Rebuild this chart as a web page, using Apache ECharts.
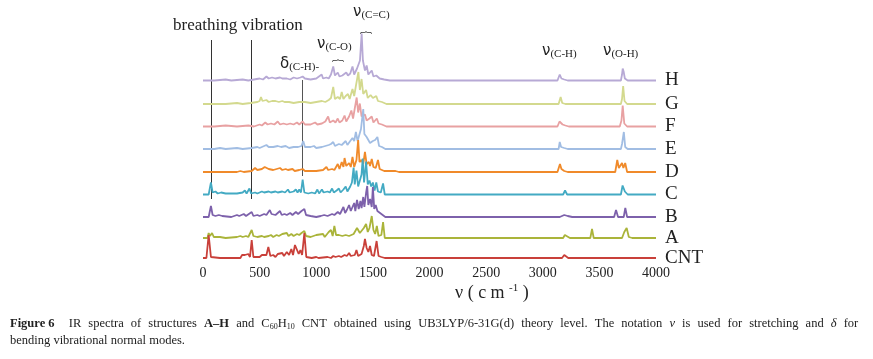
<!DOCTYPE html>
<html>
<head>
<meta charset="utf-8">
<script src="https://cdn.jsdelivr.net/npm/echarts@6/dist/echarts.min.js"></script>
<style>
html, body { margin: 0; background: #fff; }
#chart { width: 873px; height: 359px; }
</style>
</head>
<body>
<div id="chart"></div>
<script>
// IR spectra, [wavenumber cm-1, intensity (arb.)]
var names = ['CNT', 'A', 'B', 'C', 'D', 'E', 'F', 'G', 'H'];

var cnt = [[0,0],[30,0],[50,23],[70,1],[150,0],[160,2],[175,0],[330,0],[345,3],[360,1],[370,3],[385,1],[400,4],[415,1],[430,18],[445,1],[500,1],[520,3],[535,1],[560,3],[577,11],[595,2],[620,3],[640,1],[660,4],[675,2],[700,5],[715,2],[740,6],[760,3],[780,9],[795,3],[812,13],[827,14],[845,4],[860,8],[875,3],[895,25],[912,1],[960,0],[1000,1],[1020,0],[1100,1],[1130,0],[1150,2],[1170,1],[1200,2],[1220,1],[1250,3],[1270,2],[1290,5],[1305,2],[1320,4],[1340,3],[1355,8],[1370,2],[1400,4],[1420,12],[1430,19],[1445,10],[1460,6],[1475,12],[1490,3],[1510,2],[1533,17],[1550,2],[1575,1],[1590,3],[1605,0],[3170,0],[3190,3],[3205,3],[3225,0],[4000,0]];

var specA = [[0,0],[40,0],[50,5],[62,2],[80,5],[95,1],[150,1],[200,0],[300,1],[330,2],[350,1],[380,2],[400,1],[430,8],[445,2],[480,1],[520,2],[540,1],[580,2],[600,3],[620,1],[650,3],[670,2],[700,4],[715,2],[740,5],[755,2],[780,4],[800,2],[830,4],[850,3],[870,5],[895,7],[910,2],[950,1],[1000,3],[1015,1],[1060,4],[1075,1],[1110,6],[1130,8],[1145,2],[1160,12],[1175,3],[1200,3],[1230,2],[1260,3],[1290,2],[1330,4],[1360,10],[1370,12],[1385,5],[1400,6],[1420,10],[1440,14],[1455,6],[1470,10],[1490,22],[1505,8],[1520,4],[1535,12],[1550,2],[1575,3],[1590,16],[1605,0],[3180,0],[3195,3],[3210,1],[3240,0],[3420,0],[3435,9],[3450,0],[3700,0],[3720,6],[3730,5],[3741,10],[3760,1],[3790,0],[4000,0]];

var specB = [[0,0],[50,0],[70,11],[85,2],[110,1],[140,2],[170,1],[250,0],[300,2],[320,1],[360,3],[380,1],[430,5],[445,1],[480,2],[500,1],[540,3],[560,2],[590,7],[605,3],[620,5],[640,2],[660,4],[680,6],[695,2],[720,3],[740,2],[770,4],[790,2],[820,5],[840,3],[870,6],[895,8],[910,2],[950,1],[1000,0],[1040,1],[1070,2],[1100,1],[1140,3],[1160,2],[1190,5],[1210,3],[1240,10],[1255,4],[1270,7],[1290,12],[1305,6],[1320,10],[1335,14],[1345,6],[1360,17],[1375,8],[1390,16],[1400,9],[1415,20],[1425,10],[1440,24],[1450,31],[1460,12],[1475,18],[1490,10],[1500,30],[1512,8],[1525,12],[1540,6],[1555,8],[1575,3],[1590,5],[1610,0],[3150,0],[3190,2],[3220,1],[3260,0],[3630,0],[3647,7],[3665,0],[3715,0],[3729,9],[3745,0],[4000,0]];

var specC = [[0,0],[50,0],[70,12],[85,2],[110,3],[130,1],[160,2],[200,1],[250,1],[300,1],[350,2],[370,4],[385,1],[410,6],[425,1],[460,2],[480,1],[520,3],[540,2],[580,3],[600,2],[640,3],[660,2],[700,3],[725,2],[750,5],[765,2],[800,3],[820,5],[835,2],[850,5],[865,2],[880,15],[895,2],[930,1],[960,2],[990,1],[1010,5],[1025,1],[1050,5],[1065,2],[1100,3],[1120,2],[1140,6],[1155,2],[1180,4],[1200,6],[1215,2],[1240,5],[1260,8],[1275,3],[1300,8],[1315,12],[1330,27],[1340,10],[1355,24],[1370,8],[1385,14],[1400,20],[1410,36],[1422,12],[1440,33],[1455,10],[1470,14],[1485,8],[1500,12],[1515,4],[1530,12],[1545,3],[1570,2],[1590,11],[1605,0],[3180,0],[3197,4],[3215,0],[3690,0],[3705,9],[3712,11],[3725,3],[3750,0],[4000,0]];

var specD = [[0,0],[300,0],[330,1],[360,0],[430,1],[460,4],[480,2],[520,3],[545,5],[560,7],[580,3],[620,2],[650,3],[680,4],[700,2],[730,3],[750,2],[790,3],[810,1],[850,2],[880,3],[900,1],[950,1],[1000,1],[1060,2],[1090,5],[1105,2],[1140,3],[1160,2],[1190,8],[1205,3],[1225,10],[1240,5],[1250,14],[1265,6],[1290,9],[1305,5],[1320,15],[1335,5],[1355,12],[1370,32],[1382,10],[1400,12],[1415,8],[1430,20],[1445,8],[1465,10],[1475,6],[1490,13],[1505,5],[1525,4],[1545,12],[1560,3],[1600,1],[1700,1],[1730,0],[3130,0],[3152,8],[3165,3],[3190,1],[3220,0],[3640,0],[3658,12],[3672,4],[3688,5],[3700,9],[3712,4],[3728,9],[3745,0],[4000,0]];

var specE = [[0,0],[100,0],[150,1],[200,0],[300,1],[350,0],[430,1],[480,2],[500,1],[540,3],[560,4],[580,2],[620,2],[660,3],[690,2],[730,3],[760,1],[800,2],[840,2],[870,3],[885,8],[900,2],[950,2],[980,3],[1000,1],[1050,2],[1080,3],[1110,4],[1130,5],[1150,7],[1165,3],[1200,5],[1225,4],[1260,8],[1275,4],[1300,8],[1320,11],[1335,8],[1350,17],[1365,8],[1380,14],[1395,20],[1405,30],[1415,40],[1425,15],[1445,12],[1460,12],[1475,6],[1500,8],[1520,9],[1540,12],[1555,3],[1580,2],[1610,0],[3140,0],[3150,7],[3162,2],[3190,1],[3220,0],[3690,0],[3700,5],[3716,17],[3728,2],[3750,0],[4000,0]];

var specF = [[0,0],[100,0],[200,1],[300,0],[400,1],[450,0],[500,2],[520,1],[550,4],[570,2],[600,3],[630,2],[660,5],[680,2],[710,3],[740,2],[770,3],[800,2],[830,4],[850,2],[880,5],[900,2],[950,2],[990,4],[1010,2],[1050,3],[1080,5],[1105,10],[1120,4],[1150,6],[1170,4],[1190,8],[1205,4],[1230,6],[1250,11],[1265,5],[1290,10],[1310,16],[1325,8],[1340,18],[1357,29],[1370,14],[1385,23],[1400,10],[1415,9],[1430,12],[1445,6],[1470,8],[1490,10],[1505,4],[1520,6],[1535,8],[1550,3],[1580,2],[1620,0],[3130,0],[3148,5],[3160,3],[3175,2],[3200,1],[3230,0],[3680,0],[3695,6],[3706,21],[3720,3],[3745,0],[4000,0]];

var specG = [[0,0],[200,0],[300,1],[350,0],[420,1],[480,2],[500,3],[512,7],[525,3],[560,4],[580,2],[610,3],[640,3],[670,2],[700,3],[720,2],[760,2],[800,1],[850,2],[900,2],[950,1],[1000,2],[1050,3],[1080,2],[1110,4],[1130,6],[1150,17],[1165,5],[1190,7],[1210,5],[1225,12],[1240,5],[1260,8],[1280,10],[1295,5],[1320,15],[1335,8],[1350,18],[1372,32],[1385,14],[1400,25],[1415,10],[1440,14],[1455,6],[1480,9],[1500,6],[1530,8],[1545,3],[1580,2],[1620,0],[3140,0],[3158,7],[3172,1],[3200,0],[3690,0],[3700,5],[3710,18],[3722,3],[3745,0],[4000,0]];

var specH = [[0,0],[100,0],[200,1],[250,0],[350,1],[400,0],[450,1],[500,2],[530,1],[560,4],[580,2],[610,3],[640,2],[680,3],[700,2],[740,2],[770,1],[800,3],[830,2],[860,3],[880,4],[900,2],[950,1],[1000,2],[1048,6],[1060,2],[1090,3],[1110,2],[1130,6],[1150,14],[1165,5],[1190,8],[1205,4],[1230,5],[1265,8],[1280,5],[1300,7],[1320,14],[1335,6],[1360,12],[1386,20],[1401,47],[1412,20],[1430,10],[1445,15],[1460,6],[1490,10],[1505,4],[1530,5],[1545,6],[1560,2],[1600,1],[1650,0],[3130,0],[3150,6],[3165,2],[3190,1],[3220,0],[3690,0],[3700,6],[3706,12],[3714,9],[3725,2],[3750,0],[4000,0]];

// breathing vibration marker positions (cm-1)
var breathing = [77, 424, 880];

var spectra = [cnt, specA, specB, specC, specD, specE, specF, specG, specH];
var colors = ['#c9403a', '#aab43a', '#7d61ab', '#43aac3', '#f08a2a', '#a1bde3', '#e8a1a2', '#d3d98e', '#b7a9d5'];
var baselines = [258, 238, 217, 194.5, 172, 149, 126.5, 104, 80.5];
var serif = '"Liberation Serif", "DejaVu Serif", serif';

var grids = [], xAxes = [], yAxes = [], series = [];
spectra.forEach(function (d, i) {
    grids.push({ left: 203, width: 453, top: baselines[i] - 22, height: 22 });
    xAxes.push({
        gridIndex: i, type: 'value', min: 0, max: 4000, interval: 500,
        axisLine: { show: false }, axisTick: { show: false }, splitLine: { show: false },
        axisLabel: {
            show: i === 0, color: '#222', fontFamily: serif, fontSize: 14, margin: 8,
            formatter: function (v) { return String(v); }
        }
    });
    yAxes.push({ gridIndex: i, type: 'value', min: 0, max: 22, show: false });
    series.push({
        type: 'line', name: names[i], xAxisIndex: i, yAxisIndex: i,
        data: d, symbol: 'none', clip: false, z: 20 - i,
        lineStyle: { color: colors[i], width: 1.8 },
        endLabel: { show: true, formatter: '{a}', distance: 9, color: '#222', fontFamily: serif, fontSize: 19 }
    });
});

// overlay grid for the vertical marker lines (y in px from top)
grids.push({ left: 203, width: 453, top: 0, height: 260 });
xAxes.push({ gridIndex: 9, type: 'value', min: 0, max: 4000, show: false });
yAxes.push({ gridIndex: 9, type: 'value', min: 0, max: 260, inverse: true, show: false });
series.push({
    type: 'line', xAxisIndex: 9, yAxisIndex: 9, data: [], z: 30,
    markLine: {
        symbol: 'none', silent: true, label: { show: false },
        lineStyle: { color: '#333', width: 1, type: 'solid' },
        data: [
            [{ coord: [breathing[0], 40] }, { coord: [breathing[0], 199] }],
            [{ coord: [breathing[1], 40] }, { coord: [breathing[1], 199] }],
            [{ coord: [breathing[2], 80] }, { coord: [breathing[2], 176], lineStyle: { color: '#555' } }]
        ]
    }
});

function note(x, y, main, sub) {
    return {
        type: 'text', left: x, top: y, z: 50,
        style: {
            text: '{v|' + main + '}{s|' + sub + '}',
            rich: {
                v: { fontFamily: '"DejaVu Sans", sans-serif', fontSize: 15, fill: '#222' },
                s: { fontFamily: serif, fontSize: 11, fill: '#222', padding: [5, 0, 0, 0] }
            }
        }
    };
}
function brace(x, y) {
    return { type: 'text', left: x, top: y, z: 50,
        style: { text: '︷', font: '12px "Noto Sans CJK SC"', fill: '#333' } };
}

// caption: first line is justified in the source, so widen its word gaps
var captionLine1 = '{b|Figure 6}  IR spectra of structures {b|A–H} and C{sub|60}H{sub|10} CNT obtained using UB3LYP/6-31G(d) theory level. The notation {i|ν} is used for stretching and {i|δ} for';
var captionLine2 = 'bending vibrational normal modes.';

var option = {
    animation: false,
    backgroundColor: '#fff',
    grid: grids, xAxis: xAxes, yAxis: yAxes, series: series,
    graphic: [
        { type: 'text', left: 173, top: 17, z: 50,
          style: { text: 'breathing vibration', font: '17px ' + serif, fill: '#222' } },
        note(353, 5, 'ν', '(C=C)'), brace(360, 22),
        note(317, 37, 'ν', '(C-O)'), brace(332, 50),
        note(280, 57, 'δ', '(C-H)-'),
        note(542, 44, 'ν', '(C-H)'),
        note(603, 44, 'ν', '(O-H)'),
        { type: 'text', left: 455, top: 283, z: 50,
          style: {
              text: 'ν ( c m {sup|-1} )',
              font: '18px ' + serif, fill: '#222',
              rich: { sup: { fontFamily: serif, fontSize: 11, fill: '#222', padding: [0, 0, 10, 0] } }
          } },
        { type: 'text', left: 10, top: 315, z: 50,
          style: {
              text: captionLine1.replace(/ (?![^{]*\})/g, '{g| }') + '\n' + captionLine2,
              font: '12.5px ' + serif, fill: '#222', lineHeight: 17,
              rich: {
                  g: { width: 7.1 },
                  b: { fontFamily: serif, fontSize: 12.5, fontWeight: 'bold', fill: '#222' },
                  i: { fontFamily: serif, fontSize: 12.5, fontStyle: 'italic', fill: '#222' },
                  sub: { fontFamily: serif, fontSize: 8, fill: '#222', padding: [6, 0, 0, 0] }
              }
          } }
    ]
};

var chart = echarts.init(document.getElementById('chart'));
chart.setOption(option);
</script>
</body>
</html>
